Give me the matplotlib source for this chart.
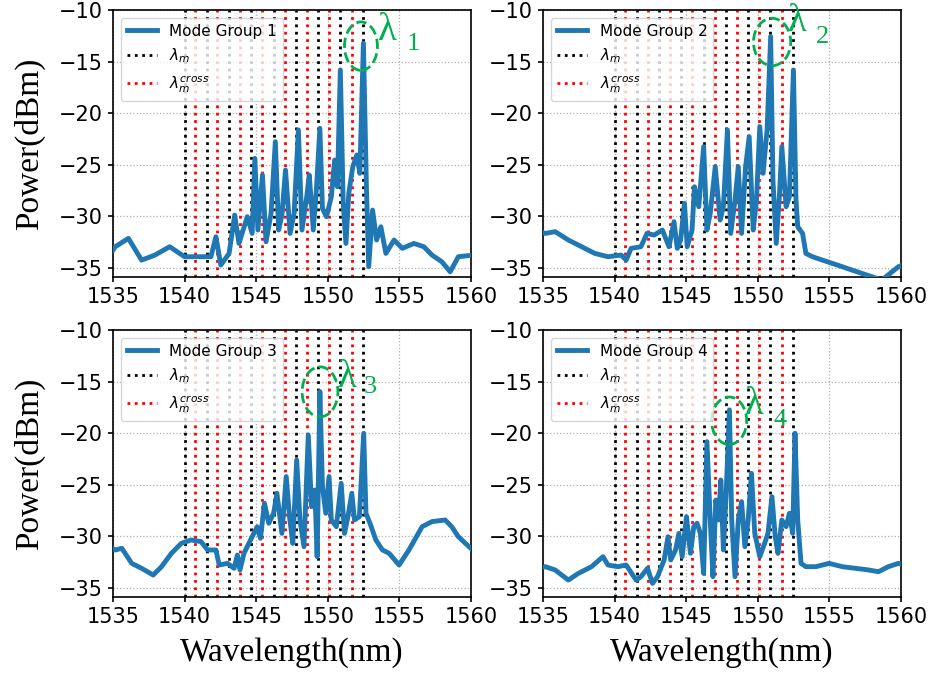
import matplotlib
matplotlib.use("Agg")
import matplotlib.pyplot as plt
from matplotlib.patches import Ellipse

# lambda_m (black) and lambda_m^cross (red) wavelengths, nm
lam_m = [1540.0, 1541.57, 1543.11, 1544.65, 1546.22, 1547.79, 1549.33, 1550.88, 1552.44]
lam_cross = [1540.76, 1542.30, 1543.87, 1545.41, 1546.98, 1548.53, 1550.09, 1551.68]

# Mode group 1 spectrum
wl1 = [1535.0, 1535.16, 1536.08, 1537.0, 1537.93, 1538.96, 1540.0, 1541.15, 1541.84, 1542.19,
       1542.53, 1543.11, 1543.5, 1543.8, 1544.38, 1544.72, 1544.91, 1545.12, 1545.44, 1545.69,
       1546.04, 1546.34, 1546.57, 1546.8, 1547.05, 1547.37, 1547.65, 1547.95, 1548.2, 1548.53,
       1548.71, 1548.99, 1549.22, 1549.45, 1549.63, 1549.91, 1550.25, 1550.48, 1550.67, 1550.88,
       1551.08, 1551.27, 1551.47, 1551.75, 1552.03, 1552.24, 1552.49, 1552.7, 1552.86, 1553.13,
       1553.41, 1553.71, 1554.06, 1554.63, 1555.21, 1556.01, 1556.71, 1557.28, 1557.97, 1558.55,
       1559.12, 1560.0]
p1 = [-33.3, -32.96, -32.15, -34.26, -33.77, -32.96, -33.93, -33.93, -33.93, -31.99,
      -34.74, -33.61, -29.89, -32.64, -30.05, -31.67, -24.39, -31.34, -26.0, -32.48,
      -29.73, -22.77, -31.34, -29.89, -25.52, -31.67, -29.73, -21.63, -31.34, -28.11,
      -26.0, -31.34, -27.14, -21.47, -29.24, -30.05, -28.11, -24.55, -27.14, -15.81,
      -28.75, -32.64, -27.78, -25.19, -24.06, -25.84, -13.22, -27.14, -34.9, -29.4,
      -32.31, -31.02, -33.61, -32.31, -33.12, -32.64, -32.96, -33.77, -34.42, -35.39,
      -33.93, -33.8]

# Mode group 2 spectrum
wl2 = [1535.0, 1535.16, 1535.85, 1536.77, 1537.7, 1538.62, 1539.54, 1540.46, 1540.81, 1541.15,
       1541.84, 1542.26, 1542.76, 1543.34, 1543.8, 1544.15, 1544.38, 1544.61, 1544.88, 1545.07,
       1545.41, 1545.58, 1545.88, 1546.22, 1546.45, 1546.68, 1547.03, 1547.37, 1547.6, 1547.88,
       1548.11, 1548.41, 1548.64, 1548.87, 1549.15, 1549.4, 1549.68, 1549.91, 1550.14, 1550.37,
       1550.65, 1550.9, 1551.06, 1551.29, 1551.52, 1551.68, 1551.98, 1552.21, 1552.49, 1552.67,
       1552.79, 1553.13, 1553.36, 1553.82, 1554.52, 1555.21, 1555.9, 1556.59, 1557.28, 1557.97,
       1558.66, 1559.24, 1559.82, 1560.0]
p2 = [-31.6, -31.67, -31.5, -32.31, -32.96, -33.61, -33.93, -33.77, -34.26, -33.12,
      -32.96, -31.67, -31.83, -31.34, -32.96, -30.53, -33.12, -32.31, -28.75, -32.96,
      -31.34, -27.14, -29.08, -23.25, -31.34, -29.73, -25.19, -30.37, -29.08, -21.63,
      -31.67, -28.43, -25.19, -31.67, -25.19, -22.28, -31.34, -28.43, -21.31, -25.84,
      -21.63, -12.57, -26.49, -32.64, -27.78, -23.25, -29.08, -28.11, -15.81, -28.43,
      -31.02, -31.67, -33.61, -33.93, -34.26, -34.58, -34.9, -35.23, -35.55, -35.87,
      -36.2, -35.55, -34.9, -34.8]

# Mode group 3 spectrum
wl3 = [1535.0, 1535.16, 1535.62, 1536.31, 1537.0, 1537.81, 1538.39, 1539.08, 1539.77, 1540.46,
       1541.15, 1541.61, 1542.19, 1542.42, 1543.0, 1543.46, 1543.69, 1543.87, 1544.15, 1544.49,
       1544.84, 1545.07, 1545.3, 1545.58, 1545.88, 1546.22, 1546.45, 1546.8, 1547.1, 1547.33,
       1547.56, 1547.83, 1548.06, 1548.34, 1548.64, 1548.87, 1549.1, 1549.26, 1549.45, 1549.63,
       1549.86, 1550.09, 1550.25, 1550.6, 1550.94, 1551.17, 1551.41, 1551.68, 1551.87, 1552.21,
       1552.51, 1552.67, 1552.95, 1553.36, 1553.82, 1554.29, 1554.98, 1555.67, 1556.59, 1557.28,
       1558.2, 1558.66, 1559.12, 1560.0]
p3 = [-31.2, -31.34, -31.18, -32.64, -33.12, -33.77, -32.96, -31.67, -30.7, -30.37,
      -30.53, -31.34, -31.34, -32.8, -32.64, -33.12, -31.83, -33.28, -31.67, -30.7,
      -29.73, -29.08, -30.21, -26.81, -28.75, -27.78, -25.84, -29.73, -24.22, -28.11,
      -30.7, -22.61, -28.43, -31.02, -20.18, -27.14, -25.52, -31.99, -15.97, -25.19,
      -27.78, -24.22, -28.43, -29.08, -24.87, -29.73, -28.11, -25.84, -28.43, -28.11,
      -20.02, -27.78, -28.75, -30.37, -31.34, -31.67, -32.8, -31.34, -29.08, -28.59,
      -28.43, -29.08, -30.05, -31.2]

# Mode group 4 spectrum
wl4 = [1535.0, 1535.16, 1535.85, 1536.77, 1537.47, 1538.39, 1539.19, 1539.54, 1540.23, 1540.81,
       1541.5, 1541.84, 1542.3, 1542.65, 1543.0, 1543.46, 1543.73, 1543.92, 1544.26, 1544.49,
       1544.72, 1545.02, 1545.3, 1545.53, 1545.76, 1545.99, 1546.22, 1546.45, 1546.68, 1546.87,
       1547.07, 1547.26, 1547.42, 1547.6, 1547.79, 1548.02, 1548.18, 1548.41, 1548.64, 1548.87,
       1549.1, 1549.33, 1549.56, 1549.79, 1550.14, 1550.48, 1550.71, 1550.99, 1551.22, 1551.41,
       1551.68, 1551.98, 1552.21, 1552.44, 1552.6, 1552.79, 1553.02, 1553.36, 1554.06, 1554.98,
       1555.9, 1556.82, 1557.74, 1558.43, 1559.12, 1559.82, 1560.0]
p4 = [-33.0, -32.96, -33.28, -34.26, -33.61, -32.96, -31.99, -32.8, -32.96, -32.8,
      -34.26, -33.93, -33.12, -34.58, -33.93, -32.31, -30.05, -32.31, -31.34, -29.73,
      -31.99, -28.11, -31.67, -29.08, -28.75, -29.73, -33.61, -20.83, -28.43, -33.93,
      -26.49, -28.43, -24.55, -31.34, -25.84, -17.75, -28.43, -33.93, -28.43, -26.65,
      -31.02, -28.43, -23.9, -29.73, -31.99, -30.7, -29.73, -26.17, -30.05, -31.67,
      -28.43, -29.08, -27.78, -29.73, -20.02, -28.43, -32.64, -32.96, -32.96, -32.64,
      -32.96, -33.12, -33.28, -33.45, -32.96, -32.64, -32.7]

wls = [wl1, wl2, wl3, wl4]
powers = [p1, p2, p3, p4]
labels = ["Mode Group 1", "Mode Group 2", "Mode Group 3", "Mode Group 4"]
peak_tags = ["1", "2", "3", "4"]

# annotation circle (center x, center y, width, height) and text spots, in data units
circles = [(1552.32, -13.5, 2.3, 4.7), (1551.0, -13.1, 2.6, 4.6),
           (1549.46, -16.0, 2.5, 4.85), (1548.0, -18.8, 2.45, 4.6)]
lam_pos = [(1554.2, -12.0), (1552.75, -11.1), (1551.4, -14.6), (1549.8, -17.2)]
num_pos = [(1556.0, -13.3), (1554.55, -12.6), (1553.0, -15.5), (1551.55, -18.7)]

green = "#00b050"
rects = [[0.1212, 0.592, 0.3841, 0.3932], [0.5826, 0.592, 0.3841, 0.3932],
         [0.1212, 0.1208, 0.3841, 0.3932], [0.5826, 0.1208, 0.3841, 0.3932]]

fig = plt.figure(figsize=(9.32, 6.79), dpi=100)

for i in range(4):
    ax = fig.add_axes(rects[i])
    for x in lam_m:
        hb = ax.axvline(x, color="black", linestyle=":", linewidth=2, zorder=2)
    for x in lam_cross:
        hr = ax.axvline(x, color="red", linestyle=":", linewidth=2, zorder=2)
    hl, = ax.plot(wls[i], powers[i], color="#1f77b4", linewidth=3.5, zorder=3)
    hb.set_label(r"$\lambda_m$")
    hr.set_label(r"$\lambda_m^{cross}$")
    hl.set_label(labels[i])

    ax.set_xlim(1535, 1560)
    ax.set_ylim(-35.9, -10)
    ax.set_xticks([1535, 1540, 1545, 1550, 1555, 1560])
    ax.set_yticks([-35, -30, -25, -20, -15, -10])
    ax.tick_params(labelsize=15, width=1.2)
    for s in ax.spines.values():
        s.set_linewidth(1.2)
    ax.grid(True, linestyle=":", color="#b0b0b0", linewidth=0.9)
    ax.legend(handles=[hl, hb, hr], loc="upper left", fontsize=11, framealpha=0.8)

    cx, cy, w, h = circles[i]
    ax.add_patch(Ellipse((cx, cy), w, h, fill=False, edgecolor=green,
                         linestyle="--", linewidth=2, zorder=5))
    ax.text(lam_pos[i][0], lam_pos[i][1], "λ", color=green, fontsize=28,
            family="Liberation Serif", ha="center", va="center", zorder=6)
    ax.text(num_pos[i][0], num_pos[i][1], peak_tags[i], color=green, fontsize=19,
            family="Liberation Serif", ha="center", va="center", zorder=6)

    if i % 2 == 0:
        ax.set_ylabel("Power(dBm)", family="Liberation Serif", fontsize=24)
        ax.yaxis.set_label_coords(-0.19, 0.5)
    if i >= 2:
        ax.set_xlabel("Wavelength(nm)", family="Liberation Serif", fontsize=24)
        ax.xaxis.set_label_coords(0.5, -0.15)

fig.savefig("out.png", dpi=100)
